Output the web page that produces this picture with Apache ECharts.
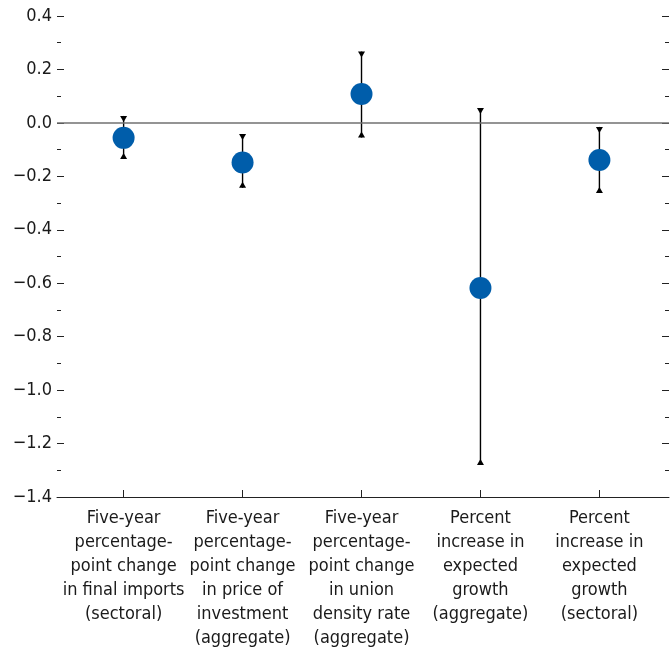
<!DOCTYPE html>
<html>
<head>
<meta charset="utf-8">
<script src="https://cdn.jsdelivr.net/npm/echarts@6/dist/echarts.min.js"></script>
<style>
  html, body { margin: 0; padding: 0; background: #fff; }
  #chart { width: 670px; height: 654px; }
</style>
</head>
<body>
<div id="chart"></div>
<script>
var categories = [
  'Five-year\npercentage-\npoint change\nin final imports\n(sectoral)',
  'Five-year\npercentage-\npoint change\nin price of\ninvestment\n(aggregate)',
  'Five-year\npercentage-\npoint change\nin union\ndensity rate\n(aggregate)',
  'Percent\nincrease in\nexpected\ngrowth\n(aggregate)',
  'Percent\nincrease in\nexpected\ngrowth\n(sectoral)'
];
var estimates = [-0.056, -0.148, 0.108, -0.618, -0.139];
var upper = [0.026, -0.042, 0.267, 0.056, -0.015];
var lower = [-0.135, -0.243, -0.055, -1.28, -0.262];
var positions = [1, 2, 3, 4, 5];

var font = '"Liberation Sans Narrow", "DejaVu Sans Condensed", sans-serif';
var chart = echarts.init(document.getElementById('chart'));

var barData = positions.map(function (p, i) { return [p, lower[i], upper[i]]; });
var pointData = positions.map(function (p, i) { return [p, estimates[i]]; });

function yAxisOf(pos) {
  return {
    type: 'value', position: pos,
    min: -1.4, max: 0.4, interval: 0.2,
    axisLine: { show: false },
    axisTick: { show: true, inside: true, length: 7, lineStyle: { color: '#222' } },
    minorTick: { show: true, splitNumber: 2, length: 4, lineStyle: { color: '#222' } },
    splitLine: { show: false },
    axisLabel: {
      show: pos === 'left', margin: 5, color: '#1a1a1a', fontSize: 18, fontFamily: font,
      formatter: function (v) { return v.toFixed(1).replace('-', '\u2212'); }
    }
  };
}

var option = {
  animation: false,
  grid: { left: 57, right: 1, top: 16, bottom: 157 },
  xAxis: {
    type: 'value', min: 0.44, max: 5.585,
    splitLine: { show: false },
    axisLine: { onZero: false, lineStyle: { color: '#222', width: 1 } },
    axisTick: { show: true, inside: true, length: 7, customValues: positions, lineStyle: { color: '#222' } },
    axisLabel: {
      customValues: positions, margin: 9, color: '#1a1a1a', fontSize: 18, lineHeight: 24,
      fontFamily: font, align: 'center',
      formatter: function (v) { return categories[Math.round(v) - 1]; }
    }
  },
  yAxis: [yAxisOf('left'), yAxisOf('right')],
  series: [
    {
      type: 'custom',
      data: barData,
      z: 3,
      renderItem: function (params, api) {
        var x = api.value(0);
        var lo = api.coord([x, api.value(1)]);
        var hi = api.coord([x, api.value(2)]);
        var w = 3.5, h = 6;
        return {
          type: 'group',
          children: [
            { type: 'line', shape: { x1: lo[0], y1: lo[1], x2: hi[0], y2: hi[1] },
              style: { stroke: '#000', lineWidth: 1.4 } },
            { type: 'polygon', shape: { points: [[hi[0] - w, hi[1]], [hi[0] + w, hi[1]], [hi[0], hi[1] + h]] },
              style: { fill: '#000' } },
            { type: 'polygon', shape: { points: [[lo[0] - w, lo[1]], [lo[0] + w, lo[1]], [lo[0], lo[1] - h]] },
              style: { fill: '#000' } }
          ]
        };
      }
    },
    {
      type: 'scatter',
      data: pointData,
      symbolSize: 22,
      z: 4,
      itemStyle: { color: '#005DAA', opacity: 1 },
      markLine: {
        silent: true, symbol: 'none', label: { show: false },
        lineStyle: { color: '#707070', type: 'solid', width: 1.5 },
        data: [{ yAxis: 0 }]
      }
    }
  ]
};
chart.setOption(option);
</script>
</body>
</html>
